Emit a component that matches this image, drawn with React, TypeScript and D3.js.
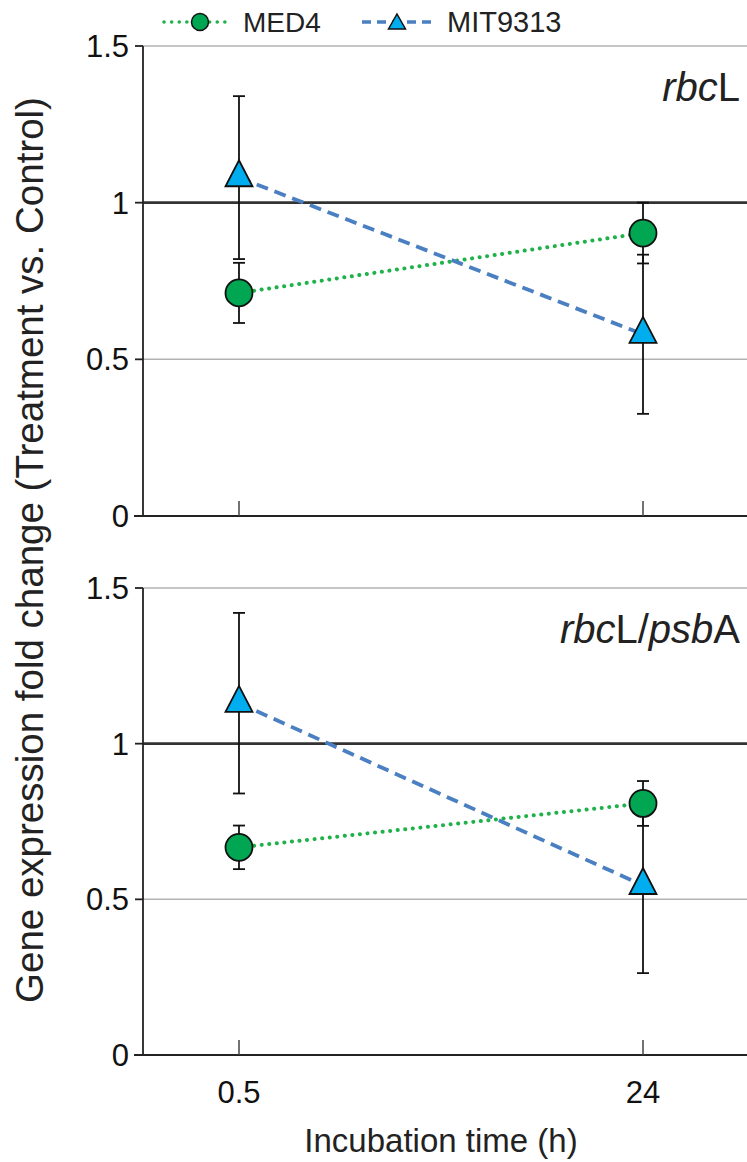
import { useEffect } from "react";
import * as d3 from "d3";

const WIDTH = 747;
const HEIGHT = 1162;
const AXIS_X = 143;
const RIGHT = 747;

const TIMES = ["0.5", "24"];
const Y_TICKS = [0, 0.5, 1, 1.5];

// rbcL panel
const MED4_RBCL = [0.712, 0.903];
const MED4_RBCL_ERR = [0.096, 0.097];
const MIT_RBCL = [1.08, 0.58];
const MIT_RBCL_ERR = [0.26, 0.254];

// rbcL/psbA panel
const MED4_RATIO = [0.667, 0.808];
const MED4_RATIO_ERR = [0.07, 0.072];
const MIT_RATIO = [1.13, 0.545];
const MIT_RATIO_ERR = [0.29, 0.282];

const PANELS = [
  { id: "rbcl", y0: 516, y1: 46, med4: MED4_RBCL, med4Err: MED4_RBCL_ERR, mit: MIT_RBCL, mitErr: MIT_RBCL_ERR, italic1: "rbc", plain1: "L", italic2: "", plain2: "", showX: false },
  { id: "ratio", y0: 1055, y1: 588, med4: MED4_RATIO, med4Err: MED4_RATIO_ERR, mit: MIT_RATIO, mitErr: MIT_RATIO_ERR, italic1: "rbc", plain1: "L/", italic2: "psb", plain2: "A", showX: true },
];

const GREEN = "#00a651";
const GREEN_LINE = "#1fb24a";
const BLUE = "#00aeef";
const BLUE_LINE = "#4a7fc1";
const FONT = "'Liberation Sans', Arial, sans-serif";

const x = d3.scalePoint<string>().domain(TIMES).range([AXIS_X, 739]).padding(0.2376);

function trianglePath(w: number, h: number) {
  return `M0,${-(2 * h) / 3}L${w / 2},${h / 3}L${-w / 2},${h / 3}Z`;
}

function Panel({ p }: { p: (typeof PANELS)[number] }) {
  const y = d3.scaleLinear().domain([0, 1.5]).range([p.y0, p.y1]);
  const line = d3.line<number>().x((_, i) => x(TIMES[i])!).y((v) => y(v));
  const series = [
    { key: "med4", vals: p.med4, errs: p.med4Err },
    { key: "mit", vals: p.mit, errs: p.mitErr },
  ];
  return (
    <g>
      {/* gridlines */}
      {[0.5, 1.5].map((t) => (
        <line key={t} x1={AXIS_X} x2={RIGHT} y1={y(t)} y2={y(t)} stroke="#b3b3b3" strokeWidth={1.5} />
      ))}
      <line x1={AXIS_X} x2={RIGHT} y1={y(1)} y2={y(1)} stroke="#333" strokeWidth={2.8} />
      {/* y axis */}
      <line x1={AXIS_X} x2={AXIS_X} y1={y(0)} y2={y(1.5)} stroke="#222" strokeWidth={1.8} />
      {Y_TICKS.map((t) => (
        <g key={t}>
          <line x1={AXIS_X - 8} x2={AXIS_X} y1={y(t)} y2={y(t)} stroke="#222" strokeWidth={1.8} />
          <text x={AXIS_X - 14} y={y(t)} dy="0.36em" textAnchor="end" fontSize={31} fontFamily={FONT} fill="#111">
            {String(t)}
          </text>
        </g>
      ))}
      {/* x axis */}
      <line x1={AXIS_X - 9} x2={RIGHT} y1={y(0)} y2={y(0)} stroke="#222" strokeWidth={2} />
      {TIMES.map((t) => (
        <g key={t}>
          <line x1={x(t)} x2={x(t)} y1={y(0)} y2={y(0) - 15} stroke="#444" strokeWidth={1.5} />
          {p.showX && (
            <text x={x(t)} y={y(0) + 48} textAnchor="middle" fontSize={31} fontFamily={FONT} fill="#111">
              {t}
            </text>
          )}
        </g>
      ))}
      {/* error bars */}
      {series.map((s) =>
        s.vals.map((v, i) => {
          const cx = x(TIMES[i])!;
          return (
            <g key={`${s.key}-${i}`} stroke="#111" strokeWidth={1.8}>
              <line x1={cx} x2={cx} y1={y(v + s.errs[i])} y2={y(v - s.errs[i])} />
              <line x1={cx - 6} x2={cx + 6} y1={y(v + s.errs[i])} y2={y(v + s.errs[i])} />
              <line x1={cx - 6} x2={cx + 6} y1={y(v - s.errs[i])} y2={y(v - s.errs[i])} />
            </g>
          );
        })
      )}
      {/* connecting lines */}
      <path d={line(p.med4) || ""} fill="none" stroke={GREEN_LINE} strokeWidth={4} strokeDasharray="0.1 7.5" strokeLinecap="round" />
      <path d={line(p.mit) || ""} fill="none" stroke={BLUE_LINE} strokeWidth={3.8} strokeDasharray="12 7" />
      {/* markers */}
      {p.med4.map((v, i) => (
        <circle key={`c${i}`} cx={x(TIMES[i])} cy={y(v)} r={13.5} fill={GREEN} stroke="#111" strokeWidth={1.8} />
      ))}
      {p.mit.map((v, i) => (
        <path key={`t${i}`} d={trianglePath(27, 26)} transform={`translate(${x(TIMES[i])},${y(v)})`} fill={BLUE} stroke="#111" strokeWidth={1.8} />
      ))}
      {/* panel label */}
      <text x={740} y={p.y1 + 55} textAnchor="end" fontSize={40} fontFamily={FONT} fill="#222">
        <tspan fontStyle="italic">{p.italic1}</tspan>
        <tspan>{p.plain1}</tspan>
        {p.italic2 && <tspan fontStyle="italic">{p.italic2}</tspan>}
        {p.plain2 && <tspan>{p.plain2}</tspan>}
      </text>
    </g>
  );
}

export default function App() {
  useEffect(() => {
    document.body.style.margin = "0";
  }, []);
  return (
    <svg width={WIDTH} height={HEIGHT} viewBox={`0 0 ${WIDTH} ${HEIGHT}`} style={{ display: "block", background: "#fff" }}>
      {PANELS.map((p) => (
        <Panel key={p.id} p={p} />
      ))}
      {/* legend */}
      <g fontFamily={FONT} fontSize={28} fill="#222">
        <line x1={164} x2={231} y1={22} y2={22} stroke={GREEN_LINE} strokeWidth={3.5} strokeDasharray="0.1 7.5" strokeLinecap="round" />
        <circle cx={200} cy={22} r={8.5} fill={GREEN} stroke="#111" strokeWidth={1.5} />
        <text x={243} y={32}>MED4</text>
        <line x1={362} x2={432} y1={22} y2={22} stroke={BLUE_LINE} strokeWidth={3.5} strokeDasharray="9 6" />
        <path d={trianglePath(17, 15)} transform="translate(397,24)" fill={BLUE} stroke="#111" strokeWidth={1.5} />
        <text x={447} y={32} fontSize={29}>MIT9313</text>
      </g>
      {/* axis titles */}
      <text x={441} y={1152} textAnchor="middle" fontSize={33} fontFamily={FONT} fill="#222">
        Incubation time (h)
      </text>
      <text transform="translate(43,550) rotate(-90)" textAnchor="middle" fontSize={38.5} fontFamily={FONT} fill="#222">
        Gene expression fold change (Treatment vs. Control)
      </text>
    </svg>
  );
}
